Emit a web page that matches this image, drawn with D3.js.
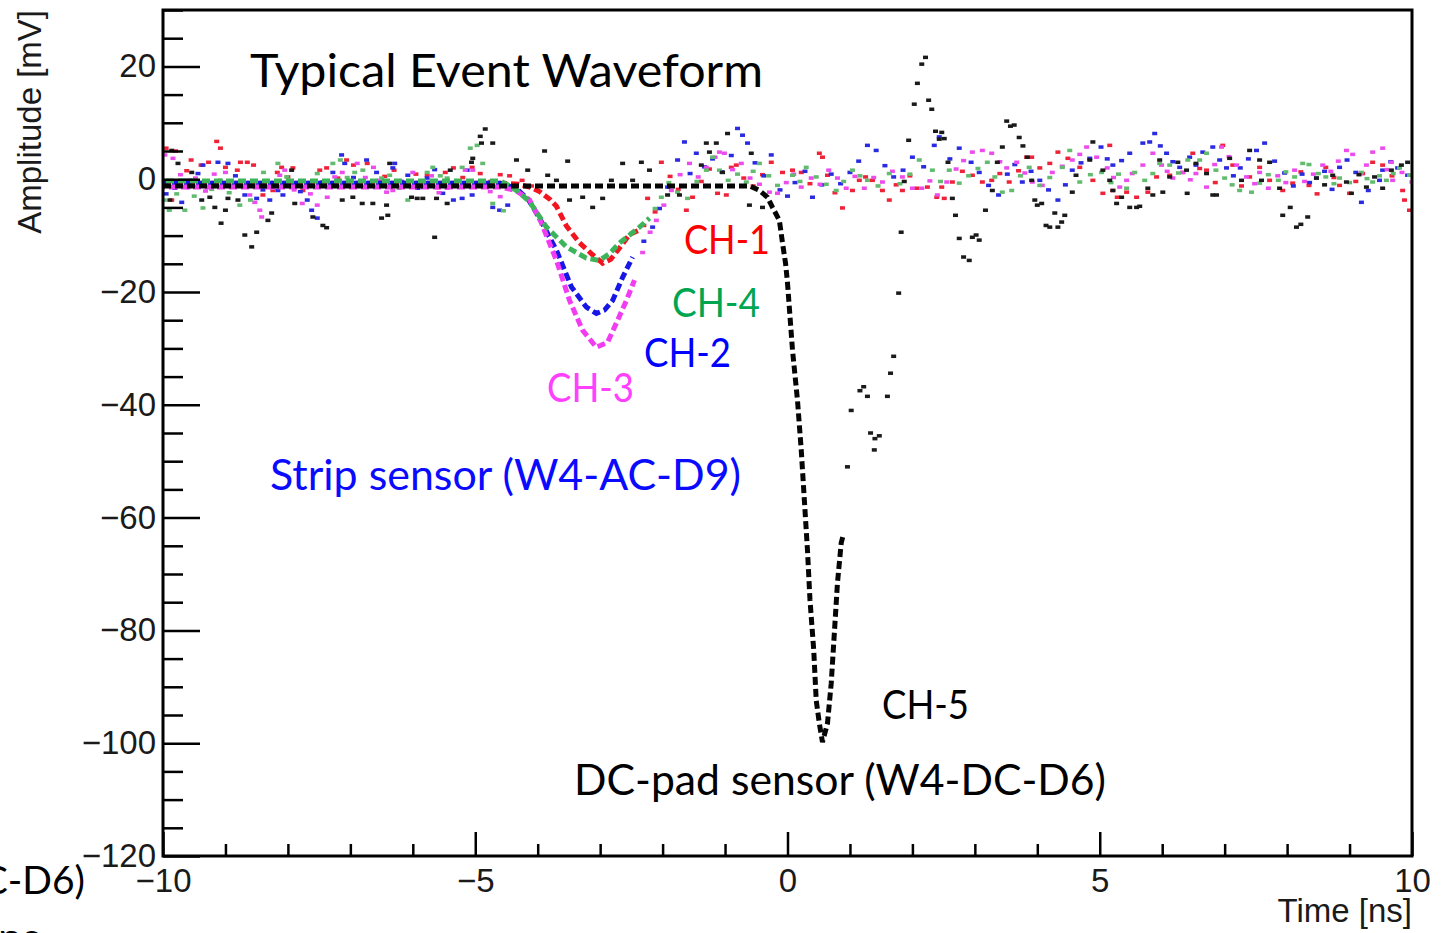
<!DOCTYPE html>
<html>
<head>
<meta charset="utf-8">
<script src="https://cdn.jsdelivr.net/npm/d3@7"></script>
<style>
  body { margin: 0; background: #fff; }
  svg { display: block; }
</style>
</head>
<body>
<div id="chart"></div>
<script>
// ---- data -------------------------------------------------------------
const timeTicks = [-10, -5, 0, 5, 10];
const ampTicks = [-120, -100, -80, -60, -40, -20, 0, 20];
const channels = ["CH-1", "CH-2", "CH-3", "CH-4", "CH-5"];

// averaged pulse shape, [time ns, amplitude mV]
const ch1Pulse = [[-10,-0.7],[-4.6,-0.7],[-4.3,-0.9],[-4.1,-1.5],[-3.97,-2.2],[-3.8,-3.6],[-3.7,-4.8],[-3.54,-8.3],[-3.33,-11.3],[-3.12,-13.4],[-2.96,-14.9],[-2.83,-14.2],[-2.69,-12.2],[-2.53,-9.8],[-2.37,-9.0]];
const ch2Pulse = [[-10,-0.7],[-4.6,-0.7],[-4.35,-1.6],[-4.15,-3.6],[-3.97,-6.9],[-3.7,-12.6],[-3.46,-19.1],[-3.22,-22.7],[-3.06,-23.8],[-2.93,-23.2],[-2.8,-21.5],[-2.64,-17.4],[-2.48,-13.8]];
const ch3Pulse = [[-10,-1.4],[-4.6,-1.4],[-4.35,-2.0],[-4.13,-3.7],[-3.95,-7.5],[-3.7,-14.4],[-3.49,-21.5],[-3.28,-26.8],[-3.06,-29.8],[-2.88,-28.9],[-2.74,-25.5],[-2.58,-21.5],[-2.45,-17.9]];
const ch4Pulse = [[-10,-0.3],[-4.6,-0.3],[-4.45,-1.2],[-4.3,-2.3],[-4.13,-4.0],[-3.86,-8.5],[-3.54,-12.0],[-3.22,-14.0],[-3.01,-14.4],[-2.85,-13.2],[-2.69,-11.3],[-2.37,-8.5],[-2.21,-6.9]];
const ch5Pulse = [[-10,-1.2],[-0.6,-1.2],[-0.45,-2],[-0.32,-3.2],[-0.24,-5],[-0.13,-7.3],[-0.08,-11.3],[-0.03,-15],[0.0,-18.4],[0.08,-30.3],[0.16,-39.2],[0.22,-48],[0.27,-56.9],[0.32,-65.8],[0.36,-74.6],[0.42,-83.5],[0.46,-92.4],[0.51,-96.5],[0.56,-99.8],[0.64,-96.5],[0.7,-89.4],[0.75,-80.5],[0.8,-71.6],[0.86,-64.5],[0.9,-62.8]];

// single event samples (noise), [time ns, amplitude mV]
const ch1Noise = [[-9.95,5.5],[-9.86,-3.7],[-9.8,5.0],[-9.62,1.5],[-9.55,3.4],[-9.39,2.5],[-9.27,3.0],[-9.14,6.7],[-9.08,5.5],[-9.0,2.1],[-8.88,-1.2],[-8.81,1.6],[-8.76,3.0],[-8.65,3.0],[-8.55,2.5],[-8.4,-2.8],[-8.24,-2.0],[-8.17,1.2],[-8.1,2.1],[-8.0,0.4],[-7.92,2.0],[-7.76,-2.0],[-7.6,-0.5],[-7.49,1.6],[-7.38,2.0],[-7.2,0.2],[-7.06,3.4],[-6.95,2.5],[-6.73,2.8],[-6.65,-0.7],[-6.45,0.5],[-6.3,1.6],[-6.1,-1.0],[-5.95,0.9],[-5.77,0.7],[-5.6,-1.5],[-5.48,1.2],[-5.35,2.0],[-5.2,0.3],[-5.05,2.1],[-4.92,1.0],[-4.75,-0.4],[-4.6,0.8],[-4.45,0.6],[-4.25,-0.2],[-4.1,-1.2],
  [-2.3,-8.2],[-2.24,-3.4],[-2.12,-5.8],[-2.02,3.0],[-1.88,0.5],[-1.75,-1.8],[-1.62,-5.5],[-1.52,-3.2],[-1.38,-0.4],[-1.25,1.8],[-1.12,-2.5],[-0.98,-2.8],[-0.9,2.1],[-0.82,2.5],[-0.7,0.2],[-0.55,-1.2],[-0.4,0.8],[-0.26,3.0],[-0.08,1.2],[0.08,1.6],[0.22,1.2],[0.36,-0.8],[0.51,4.6],[0.56,3.9],[0.64,0.7],[0.76,-2.4],[0.88,-5.1],[1.04,-2.0],[1.15,-0.2],[1.25,0.4],[1.36,-0.2],[1.52,-2.0],[1.63,-3.7],[1.74,-1.0],[1.84,-2.0],[1.96,0.6],[2.07,-1.6],[2.24,-1.4],[2.39,-3.2],[2.47,-1.4],[2.51,-3.4],[2.64,-0.5],[2.8,1.4],[2.96,0.7],[3.12,-0.5],[3.27,-0.2],[3.4,1.0],[3.55,-0.5],[3.7,1.5],[3.83,3.9],[3.91,3.9],[4.04,2.0],[4.2,2.8],[4.33,4.8],[4.49,3.7],[4.68,2.1],[4.89,-0.2],[5.05,-2.5],[5.16,6.0],[5.21,-2.0],[5.28,-3.2],[5.43,-2.3],[5.59,-3.2],[5.77,-2.3],[5.91,0.4],[6.12,0.7],[6.33,1.2],[6.49,4.6],[6.6,1.9],[6.71,1.6],[6.85,-0.6],[6.97,6.0],[7.13,2.5],[7.27,-1.2],[7.4,0.4],[7.56,2.1],[7.72,-0.2],[7.93,-2.0],[8.09,-0.7],[8.22,1.3],[8.35,-1.1],[8.48,-2.6],[8.62,2.1],[8.75,0.3],[8.84,-1.1],[9.0,-2.5],[9.1,-0.4],[9.21,1.0],[9.37,3.0],[9.53,2.5],[9.68,0.6],[9.85,-2.0],[9.88,-3.7],[9.96,-5.5]];
const ch2Noise = [[-9.95,-2.6],[-9.81,-1.6],[-9.7,-4.1],[-9.58,-0.2],[-9.44,1.0],[-9.36,2.5],[-9.24,-0.8],[-9.12,3.0],[-8.96,2.8],[-8.84,0.6],[-8.69,-2.8],[-8.5,-3.4],[-8.4,-1.9],[-8.29,-3.7],[-8.16,-2.0],[-8.08,-2.8],[-7.92,-0.9],[-7.8,-2.2],[-7.69,-3.7],[-7.62,-5.5],[-7.53,-6.9],[-7.44,-0.5],[-7.28,1.2],[-7.14,4.3],[-7.09,2.8],[-6.95,0.3],[-6.86,-1.1],[-6.74,3.4],[-6.58,1.2],[-6.45,-0.9],[-6.32,2.0],[-6.29,2.8],[-6.18,-0.4],[-6.08,0.7],[-5.92,-1.6],[-5.77,0.2],[-5.65,1.7],[-5.52,-2.5],[-5.35,-3.7],[-5.21,-3.4],[-5.13,1.6],[-5.05,-2.8],[-4.9,-1.0],[-4.72,-5.0],[-4.61,-5.5],[-4.48,-4.6],
  [-2.3,-11.0],[-2.16,-8.5],[-2.05,-5.2],[-1.92,-1.4],[-1.76,3.4],[-1.65,6.6],[-1.56,1.0],[-1.46,4.6],[-1.33,2.2],[-1.2,3.6],[-1.05,1.3],[-0.9,4.2],[-0.8,9.0],[-0.72,7.8],[-0.64,6.4],[-0.52,2.9],[-0.38,0.6],[-0.26,4.3],[-0.12,-1.9],[0.0,-3.0],[0.12,-0.6],[0.28,1.4],[0.4,-3.2],[0.55,-1.0],[0.7,0.9],[0.85,-0.8],[1.0,1.2],[1.14,3.2],[1.28,6.0],[1.42,5.1],[1.56,2.4],[1.7,0.4],[1.85,1.6],[2.0,3.9],[2.18,2.2],[2.35,6.0],[2.43,7.5],[2.6,3.6],[2.75,5.5],[2.94,3.0],[3.07,1.2],[3.22,-1.1],[3.38,-2.8],[3.52,0.9],[3.64,2.6],[3.76,-0.5],[3.9,1.4],[4.04,-0.2],[4.18,-1.9],[4.33,-3.7],[4.45,-1.0],[4.56,1.6],[4.7,2.9],[4.84,3.7],[5.02,5.7],[5.12,3.6],[5.21,2.5],[5.35,3.3],[5.48,4.6],[5.69,6.4],[5.8,6.6],[5.88,8.1],[5.97,5.9],[6.07,4.6],[6.17,3.1],[6.28,2.1],[6.44,3.9],[6.54,2.5],[6.65,4.8],[6.81,5.7],[6.92,3.4],[7.03,2.0],[7.14,0.6],[7.25,2.0],[7.38,3.6],[7.51,5.1],[7.64,6.4],[7.8,3.2],[7.96,1.1],[8.1,-1.2],[8.24,0.9],[8.36,-0.6],[8.47,0.2],[8.6,1.4],[8.72,-1.8],[8.84,2.1],[8.96,3.4],[9.1,1.2],[9.19,-4.1],[9.3,-2.0],[9.48,-0.2],[9.53,1.6],[9.66,3.1],[9.77,2.0],[9.93,0.7]];
const ch3Noise = [[-9.97,4.3],[-9.84,3.7],[-9.72,0.8],[-9.6,-1.5],[-9.48,0.2],[-9.32,-2.1],[-9.18,0.9],[-9.0,1.2],[-8.86,-0.6],[-8.72,-1.2],[-8.61,-2.8],[-8.53,-4.1],[-8.45,-5.5],[-8.42,-6.7],[-8.24,-1.6],[-8.13,0.7],[-8.05,1.6],[-7.9,-1.9],[-7.77,-4.3],[-7.64,-2.6],[-7.53,-4.6],[-7.37,-3.2],[-7.25,0.4],[-7.13,1.2],[-7.0,-0.9],[-6.89,2.8],[-6.76,0.3],[-6.63,2.1],[-6.53,-0.2],[-6.42,-2.3],[-6.32,-2.0],[-6.16,-0.6],[-6.0,1.2],[-5.84,-0.7],[-5.7,0.6],[-5.58,-2.4],[-5.45,-1.6],[-5.32,-1.1],[-5.16,1.6],[-5.04,1.6],[-4.9,-0.3],[-4.76,-2.2],[-4.6,-3.1],
  [-2.32,-13.0],[-2.2,-9.4],[-2.1,-7.3],[-1.98,-4.6],[-1.86,-2.0],[-1.72,0.8],[-1.57,2.8],[-1.43,0.4],[-1.3,2.1],[-1.16,3.9],[-1.09,4.8],[-1.01,4.6],[-0.88,1.7],[-0.74,2.8],[-0.6,0.2],[-0.45,-0.9],[-0.29,-2.3],[-0.16,-2.5],[-0.02,-0.6],[0.1,0.9],[0.22,-1.4],[0.38,0.2],[0.52,-0.9],[0.66,1.6],[0.8,0.2],[0.94,-1.6],[1.08,0.5],[1.23,-1.6],[1.38,0.3],[1.52,-0.5],[1.68,1.4],[1.84,0.4],[2.0,-1.6],[2.15,-1.6],[2.28,-0.3],[2.4,-2.8],[2.55,-0.5],[2.7,1.8],[2.82,3.3],[2.96,4.8],[3.12,5.1],[3.27,4.6],[3.4,3.1],[3.51,2.0],[3.67,3.0],[3.8,1.1],[3.92,-0.5],[4.08,-1.1],[4.24,1.2],[4.4,2.3],[4.56,3.4],[4.68,4.4],[4.79,5.7],[4.95,3.9],[5.12,2.0],[5.22,0.3],[5.32,-1.4],[5.43,-0.2],[5.52,1.0],[5.69,2.5],[5.85,4.6],[5.99,2.5],[6.08,1.4],[6.17,0.2],[6.33,1.2],[6.45,-0.1],[6.54,1.0],[6.71,-1.4],[6.84,2.6],[6.95,5.7],[7.07,4.0],[7.19,2.5],[7.35,0.4],[7.48,-0.8],[7.56,1.2],[7.7,-1.6],[7.85,0.6],[7.98,-0.6],[8.12,1.6],[8.28,-0.4],[8.42,0.9],[8.57,2.5],[8.7,1.4],[8.82,3.2],[8.95,5.1],[9.05,4.4],[9.18,1.0],[9.27,2.5],[9.37,4.8],[9.53,5.5],[9.6,1.7],[9.67,3.0],[9.69,-0.2],[9.84,1.2],[10.0,-0.5]];
const ch4Noise = [[-9.98,-3.7],[-9.9,-5.5],[-9.78,-2.6],[-9.65,-5.5],[-9.5,-3.0],[-9.36,-5.1],[-9.22,-1.8],[-9.08,-0.2],[-8.94,-2.4],[-8.77,-4.6],[-8.6,-3.7],[-8.5,-0.9],[-8.39,1.2],[-8.16,2.8],[-8.02,0.4],[-7.88,-0.8],[-7.76,-1.4],[-7.53,1.0],[-7.4,-0.6],[-7.28,2.8],[-7.16,3.4],[-7.05,0.3],[-6.93,1.2],[-6.8,1.6],[-6.65,-0.5],[-6.5,0.2],[-6.37,0.7],[-6.22,-1.6],[-6.08,-3.7],[-5.92,-0.6],[-5.77,1.2],[-5.68,2.1],[-5.56,0.6],[-5.45,0.2],[-5.33,-1.1],[-5.21,2.1],[-5.08,5.5],[-4.97,6.0],[-4.88,2.8],[-4.72,-4.3],[-4.55,-5.6],
  [-2.12,-5.2],[-2.02,-3.2],[-1.9,-0.6],[-1.76,-2.3],[-1.6,-3.4],[-1.45,-0.4],[-1.3,1.6],[-1.2,3.9],[-1.09,1.6],[-0.95,-0.2],[-0.8,0.9],[-0.66,-0.5],[-0.55,1.4],[-0.45,2.8],[-0.3,0.6],[-0.16,-1.1],[0.08,0.7],[0.2,-0.4],[0.3,2.1],[0.46,0.4],[0.62,-0.9],[0.78,-2.0],[0.9,-0.4],[1.04,1.6],[1.16,0.6],[1.28,-0.2],[1.45,-1.2],[1.63,1.0],[1.8,-0.8],[1.96,0.9],[2.11,3.4],[2.32,1.6],[2.45,-0.4],[2.59,1.6],[2.75,-0.7],[2.9,0.6],[3.05,1.9],[3.2,3.0],[3.32,0.4],[3.44,-2.3],[3.59,-2.0],[3.73,0.6],[3.87,2.1],[4.04,-1.1],[4.2,0.3],[4.4,2.1],[4.52,5.1],[4.68,-0.5],[4.85,0.8],[5.03,1.2],[5.18,-0.6],[5.3,0.9],[5.43,-1.6],[5.56,1.2],[5.72,-0.2],[5.85,1.0],[5.96,2.8],[6.12,2.5],[6.26,1.1],[6.41,3.4],[6.6,3.4],[6.71,4.6],[6.86,1.6],[7.0,0.2],[7.12,-1.0],[7.24,-2.0],[7.43,-2.3],[7.56,-0.7],[7.7,0.8],[7.86,-0.2],[7.98,1.3],[8.12,0.4],[8.25,2.8],[8.35,2.6],[8.5,1.0],[8.62,0.4],[8.75,-0.8],[8.84,0.2],[9.0,-0.6],[9.19,1.2],[9.28,0.1],[9.37,-0.5],[9.48,0.6],[9.59,-0.2],[9.7,1.0],[9.8,2.0],[9.96,0.7]];
const ch5Noise = [[-9.86,5.1],[-9.89,-3.7],[-9.76,2.8],[-9.54,1.2],[-9.38,-3.7],[-9.25,-3.2],[-9.17,-5.0],[-9.07,-7.8],[-9.0,-5.5],[-8.96,-3.4],[-8.8,-3.7],[-8.69,-9.9],[-8.58,-12.0],[-8.5,-9.4],[-8.32,-7.3],[-8.26,-6.0],[-8.05,-1.1],[-7.94,1.6],[-7.89,-4.3],[-7.6,-6.7],[-7.44,-8.2],[-7.38,-8.6],[-7.13,-3.7],[-6.96,-3.2],[-6.81,-4.3],[-6.64,-4.3],[-6.5,-6.9],[-6.42,-4.6],[-6.4,-6.4],[-6.37,2.8],[-6.02,-3.2],[-5.93,-3.4],[-5.84,-3.4],[-5.65,-10.3],[-5.62,-3.4],[-5.45,-4.3],[-5.4,1.6],[-5.06,3.0],[-5.04,3.7],[-4.92,7.6],[-4.9,6.4],[-4.84,8.9],[-4.72,6.4],[-4.34,3.4],[-4.16,1.6],[-3.89,5.0],[-3.84,0.7],[-3.7,-0.2],[-3.52,3.2],[-3.49,-3.7],[-3.28,-3.2],[-3.12,-5.0],[-2.96,-3.4],[-2.82,-0.2],[-2.64,2.8],[-2.48,-0.2],[-2.34,3.0],[-2.21,1.6],[-1.92,-2.8],[-1.73,-2.8],[-1.38,2.5],[-1.3,6.4],[-1.25,4.8],[-1.14,6.4],[-1.04,1.2],[-0.96,8.1],[-0.61,-4.6],[-0.58,4.6],[-0.4,-5.0],
  [0.96,-51.0],[1.02,-41.0],[1.16,-37.5],[1.22,-36.8],[1.28,-38.5],[1.33,-45.0],[1.39,-48.0],[1.4,-46.0],[1.47,-45.5],[1.6,-38.5],[1.65,-34.4],[1.7,-31.4],[1.78,-20.2],[1.82,-9.4],[1.87,-0.4],[1.94,6.9],[2.03,13.3],[2.08,17.0],[2.15,20.4],[2.21,21.6],[2.26,14.0],[2.31,12.4],[2.37,8.5],[2.43,7.1],[2.47,8.3],[2.51,7.2],[2.57,3.0],[2.64,-3.4],[2.69,-6.4],[2.75,-10.5],[2.82,-13.8],[2.91,-14.4],[2.96,-10.3],[3.02,-9.9],[3.07,-10.8],[3.17,-5.5],[3.28,-2.0],[3.36,3.0],[3.44,5.7],[3.51,10.3],[3.57,9.4],[3.63,9.6],[3.71,7.4],[3.77,5.9],[3.84,3.9],[3.91,-0.2],[3.96,-3.7],[4.0,-4.6],[4.07,-4.3],[4.14,-8.2],[4.2,-8.5],[4.28,-6.0],[4.33,-8.5],[4.39,-7.6],[4.44,-6.4],[4.56,-2.3],[4.62,0.7],
  [4.84,3.4],[4.89,6.6],[5.05,1.6],[5.16,-0.2],[5.21,-2.0],[5.27,-4.3],[5.35,-3.2],[5.48,-5.0],[5.59,-5.0],[5.64,-4.8],[5.77,-1.6],[5.85,-2.8],[5.96,3.4],[6.01,-2.3],[6.12,0.4],[6.25,3.0],[6.39,1.6],[6.4,-2.5],[6.54,2.8],[6.71,1.0],[6.81,-2.8],[6.87,-2.8],[7.08,3.7],[7.27,-0.2],[7.4,5.1],[7.56,3.4],[7.59,-0.2],[7.72,3.0],[7.88,-1.6],[7.93,-6.4],[8.05,-5.0],[8.15,-8.5],[8.22,-8.0],[8.33,-6.7],[8.47,0.2],[8.6,-1.0],[8.73,0.7],[8.95,-0.5],[9.03,-2.5],[9.15,0.8],[9.27,-1.4],[9.4,0.4],[9.53,-1.6],[9.67,1.6],[9.83,2.5],[9.93,3.0]];

// ---- layout -------------------------------------------------------------
const width = 1444, height = 933;
const frame = { left: 163, right: 1412, top: 10, bottom: 856 };

const lineColor = { "CH-1": "#f2141e", "CH-2": "#1616e6", "CH-3": "#f23cf2", "CH-4": "#3cb45a", "CH-5": "#050505" };
const dotColor  = { "CH-1": "#ee2238", "CH-2": "#2a2ae0", "CH-3": "#ec4cec", "CH-4": "#62bb6e", "CH-5": "#1a1a1a" };
const pulses = { "CH-1": ch1Pulse, "CH-2": ch2Pulse, "CH-3": ch3Pulse, "CH-4": ch4Pulse, "CH-5": ch5Pulse };
const noise  = { "CH-1": ch1Noise, "CH-2": ch2Noise, "CH-3": ch3Noise, "CH-4": ch4Noise, "CH-5": ch5Noise };

const svg = d3.select("#chart").append("svg")
  .attr("width", width)
  .attr("height", height)
  .attr("viewBox", `0 0 ${width} ${height}`);

const x = d3.scaleLinear().domain([-10, 10]).range([frame.left, frame.right]);
const y = d3.scaleLinear().domain([-120, 30]).range([frame.bottom, frame.top]);

svg.append("clipPath").attr("id", "plot-clip")
  .append("rect")
  .attr("x", frame.left).attr("y", frame.top)
  .attr("width", frame.right - frame.left)
  .attr("height", frame.bottom - frame.top);

// ---- waveforms ---------------------------------------------------------
const plot = svg.append("g").attr("clip-path", "url(#plot-clip)");
const line = d3.line().x(d => x(d[0])).y(d => y(d[1]));
const drawOrder = ["CH-1", "CH-2", "CH-3", "CH-4", "CH-5"];

drawOrder.forEach(ch => {
  plot.append("g")
    .selectAll("rect")
    .data(noise[ch])
    .join("rect")
    .attr("x", d => x(d[0]) - 2.5)
    .attr("y", d => y(d[1]) - 1.75)
    .attr("width", 5)
    .attr("height", 3.5)
    .attr("fill", dotColor[ch]);
});

drawOrder.forEach((ch, i) => {
  plot.append("path")
    .datum(pulses[ch])
    .attr("d", line)
    .attr("fill", "none")
    .attr("stroke", lineColor[ch])
    .attr("stroke-width", ch === "CH-5" ? 5 : 5)
    .attr("stroke-dasharray", "8,4")
    .attr("stroke-dashoffset", i * 3);
});

// ---- axes --------------------------------------------------------------
const tickFont = "'Liberation Sans', Arial, Helvetica, sans-serif";

function styleAxis(g) {
  g.select(".domain").remove();
  g.selectAll(".tick line").attr("stroke", "#000").attr("stroke-width", 2.5);
  g.selectAll(".tick text").attr("fill", "#1a1a1a");
  g.attr("font-family", tickFont).attr("font-size", 33);
}

const yMinor = d3.range(-120, 31, 5).filter(v => !ampTicks.includes(v));
const xMinor = d3.range(-10, 11, 1).filter(v => !timeTicks.includes(v));

svg.append("g")
  .attr("transform", `translate(${frame.left},0)`)
  .call(d3.axisLeft(y).tickValues(yMinor).tickSize(-20).tickFormat(""))
  .call(styleAxis);

svg.append("g")
  .attr("transform", `translate(${frame.left},0)`)
  .call(d3.axisLeft(y).tickValues(ampTicks).tickSize(-37).tickPadding(7))
  .call(styleAxis);

svg.append("g")
  .attr("transform", `translate(0,${frame.bottom})`)
  .call(d3.axisBottom(x).tickValues(xMinor).tickSize(-12).tickFormat(""))
  .call(styleAxis);

svg.append("g")
  .attr("transform", `translate(0,${frame.bottom})`)
  .call(d3.axisBottom(x).tickValues(timeTicks).tickSize(-24).tickPadding(13))
  .call(styleAxis);

svg.append("rect")
  .attr("x", frame.left).attr("y", frame.top)
  .attr("width", frame.right - frame.left)
  .attr("height", frame.bottom - frame.top)
  .attr("fill", "none")
  .attr("stroke", "#000")
  .attr("stroke-width", 3);

svg.append("text")
  .attr("transform", "translate(41,10) rotate(-90)")
  .attr("text-anchor", "end")
  .attr("font-family", tickFont)
  .attr("font-size", 33)
  .attr("fill", "#1a1a1a")
  .text("Amplitude [mV]");

svg.append("text")
  .attr("x", frame.right)
  .attr("y", 922)
  .attr("text-anchor", "end")
  .attr("font-family", tickFont)
  .attr("font-size", 33)
  .attr("fill", "#1a1a1a")
  .text("Time [ns]");

// ---- slide annotations -------------------------------------------------
const noteFont = "Lato, 'Open Sans', sans-serif";
function note(txt, px, py, size, len, color, anchor) {
  const t = svg.append("text")
    .attr("x", px).attr("y", py)
    .attr("font-family", noteFont)
    .attr("font-size", size)
    .attr("fill", color)
    .attr("text-anchor", anchor || "start")
    .text(txt);
  if (len) t.attr("textLength", len).attr("lengthAdjust", "spacingAndGlyphs");
  return t;
}

note("Typical Event Waveform", 250, 87, 47, 513, "#000");
note(channels[0], 684, 254, 40, 86, "#ff0000");
note(channels[3], 672, 317, 40, 88, "#00a550");
note(channels[1], 644, 367, 40, 87, "#0000ff");
note(channels[2], 547, 402, 40, 87, "#ff40ff");
note("Strip sensor (W4-AC-D9)", 270, 490, 43, 471, "#0a0aff");
note(channels[4], 882, 719, 40, 87, "#000");
note("DC-pad sensor (W4-DC-D6)", 574, 795, 43, 532, "#000");
// pieces of neighbouring slide text cut by the image edge
note("(W4-DC-D6)", 85, 894, 39, null, "#000", "end");
note("ns", -2, 953, 43, null, "#000");
</script>
</body>
</html>
